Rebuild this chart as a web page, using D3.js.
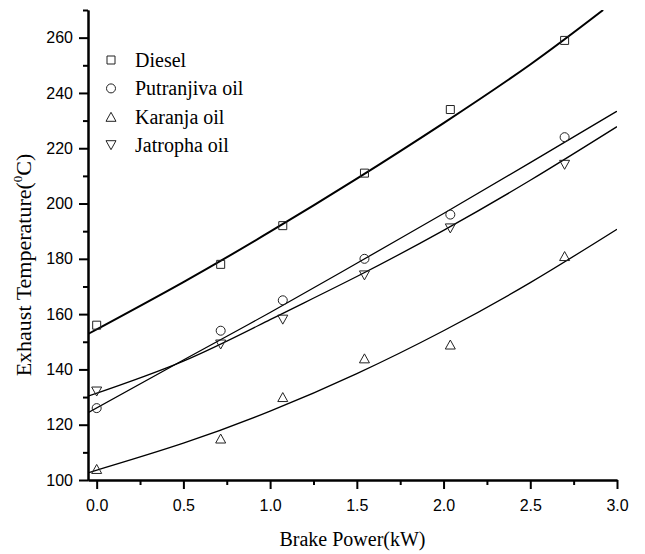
<!DOCTYPE html>
<html>
<head>
<meta charset="utf-8">
<script src="https://cdn.jsdelivr.net/npm/d3@7"></script>
<style>
  body { margin: 0; background: #fff; }
  svg { display: block; }
</style>
</head>
<body>
<script>
// brake power (kW) at the measured points
var power = [0, 0.715, 1.073, 1.544, 2.039, 2.698];

// exhaust temperature readings
var diesel = [156, 178, 192, 211, 234, 259];
var putranjiva = [126, 154, 165, 180, 196, 224];
var karanja = [104, 115, 130, 144, 149, 181];
var jatropha = [132, 149, 158, 174, 191, 214];

// fitted curves
var fitX = [-0.05, 0.5, 1.0, 1.5, 2.0, 2.5, 3.0];
var dieselFitX = [-0.05, 0.5, 1.0, 1.5, 2.0, 2.5, 2.92];
var dieselFit = [152.8, 171.6, 189.8, 209.0, 229.1, 250.3, 270];
var putranjivaFit = [124.3, 143.4, 160.6, 178.4, 196.4, 214.8, 233.4];
var karanjaFit = [102.6, 113.3, 124.9, 138.5, 154.0, 171.4, 190.7];
var jatrophaFit = [130.3, 143.0, 158.0, 173.6, 190.3, 208.4, 227.8];

var names = ["Diesel", "Putranjiva oil", "Karanja oil", "Jatropha oil"];
var xTicks = [0, 0.5, 1.0, 1.5, 2.0, 2.5, 3.0];
var xMinor = [0.25, 0.75, 1.25, 1.75, 2.25, 2.75];
var yTicks = [100, 120, 140, 160, 180, 200, 220, 240, 260];
var yMinor = [110, 130, 150, 170, 190, 210, 230, 250, 270];

var width = 645, height = 554;
var margin = {left: 88, right: 28, top: 10, bottom: 74};

var x = d3.scaleLinear().domain([-0.05, 3.0]).range([margin.left, width - margin.right]);
var y = d3.scaleLinear().domain([100, 270]).range([height - margin.bottom, margin.top]);

var svg = d3.select("body").append("svg").attr("width", width).attr("height", height);

svg.append("clipPath").attr("id", "plot")
  .append("rect")
  .attr("x", x.range()[0]).attr("y", y.range()[1])
  .attr("width", x.range()[1] - x.range()[0])
  .attr("height", y.range()[0] - y.range()[1]);

// symbols, drawn around their box centre
function symbolPath(kind) {
  if (kind == 0) return "M-4,-4H4V4H-4Z";
  if (kind == 1) return "M-4.5,0A4.5,4.5 0 1,0 4.5,0A4.5,4.5 0 1,0 -4.5,0Z";
  if (kind == 2) return "M0,-4.5L5,4.5L-5,4.5Z";
  return "M0,4.5L5,-4.5L-5,-4.5Z";
}

var series = [
  {vals: diesel, fx: dieselFitX, fit: dieselFit, w: 2},
  {vals: putranjiva, fx: fitX, fit: putranjivaFit, w: 1.3},
  {vals: karanja, fx: fitX, fit: karanjaFit, w: 1.3},
  {vals: jatropha, fx: fitX, fit: jatrophaFit, w: 1.3}
];

var line = d3.line()
  .x(function(d){ return x(d[0]); })
  .y(function(d){ return y(d[1]); })
  .curve(d3.curveNatural);

var g = svg.append("g").attr("clip-path", "url(#plot)");

series.forEach(function(s, i) {
  g.append("path")
    .attr("d", line(s.fx.map(function(v, j){ return [v, s.fit[j]]; })))
    .attr("fill", "none")
    .attr("stroke", "#000")
    .attr("stroke-width", s.w);

  svg.append("g").selectAll("path")
    .data(s.vals)
    .enter().append("path")
    .attr("transform", function(d, j){ return "translate(" + x(power[j]) + "," + y(d) + ")"; })
    .attr("d", symbolPath(i))
    .attr("fill", "none")
    .attr("stroke", "#222")
    .attr("stroke-width", 1);
});

// axes
var axisY = height - margin.bottom;

svg.append("g").attr("transform", "translate(0," + axisY + ")")
  .call(d3.axisBottom(x).tickValues(xTicks).tickFormat(d3.format(".1f")).tickSize(9).tickSizeOuter(0).tickPadding(11));
svg.append("g").attr("transform", "translate(0," + axisY + ")")
  .call(d3.axisBottom(x).tickValues(xMinor).tickFormat("").tickSize(5).tickSizeOuter(0));

svg.append("g").attr("transform", "translate(" + margin.left + ",0)")
  .call(d3.axisLeft(y).tickValues(yTicks).tickSize(9).tickSizeOuter(0).tickPadding(6));
svg.append("g").attr("transform", "translate(" + margin.left + ",0)")
  .call(d3.axisLeft(y).tickValues(yMinor).tickFormat("").tickSize(5).tickSizeOuter(0));

svg.selectAll(".domain, .tick line").attr("stroke", "#000").attr("stroke-width", 2);
svg.selectAll(".tick text")
  .attr("font-family", "'Liberation Sans', Arial, sans-serif")
  .attr("font-size", 16)
  .attr("fill", "#000");

// axis titles
svg.append("text")
  .attr("x", (x.range()[0] + x.range()[1]) / 2)
  .attr("y", 546)
  .attr("text-anchor", "middle")
  .attr("font-family", "'Liberation Serif', 'Times New Roman', serif")
  .attr("font-size", 20)
  .text("Brake Power(kW)");

var yt = svg.append("text")
  .attr("transform", "translate(31,265) rotate(-90)")
  .attr("text-anchor", "middle")
  .attr("font-family", "'Liberation Serif', 'Times New Roman', serif")
  .attr("font-size", 22);
yt.append("tspan").text("Exhaust Temperature(");
yt.append("tspan").attr("font-size", 13).attr("dy", -9).text("0");
yt.append("tspan").attr("dy", 9).text("C)");

// legend
var legend = svg.append("g");
names.forEach(function(n, i) {
  var ly = 60 + i * 28.4;
  legend.append("path")
    .attr("transform", "translate(111," + ly + ")")
    .attr("d", symbolPath(i))
    .attr("fill", "none")
    .attr("stroke", "#222")
    .attr("stroke-width", 1);
  legend.append("text")
    .attr("x", 135)
    .attr("y", ly + 7)
    .attr("font-family", "'Liberation Serif', 'Times New Roman', serif")
    .attr("font-size", 20)
    .text(n);
});
</script>
</body>
</html>
